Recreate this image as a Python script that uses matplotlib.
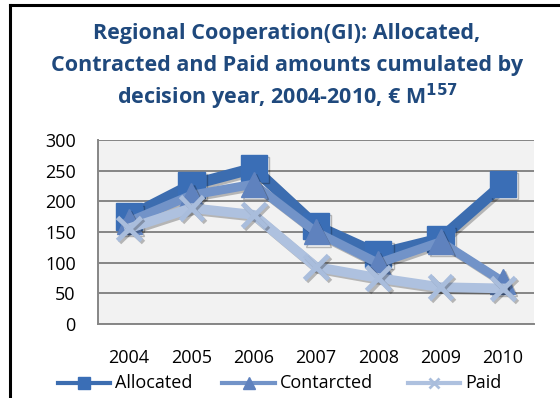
import matplotlib
matplotlib.use("Agg")
import matplotlib.pyplot as plt
from matplotlib import patheffects as pe
from matplotlib.lines import Line2D

years = ["2004", "2005", "2006", "2007", "2008", "2009", "2010"]
allocated = [175, 227, 254, 160, 114, 139, 228]
contracted = [167, 210, 228, 150, 99, 134, 69]
paid = [156, 189, 178, 93, 75, 60, 58]
series_names = ["Allocated", "Contarcted", "Paid"]
y_ticks = [0, 50, 100, 150, 200, 250, 300]

plt.rcParams["font.family"] = ["Open Sans", "DejaVu Sans"]

W, H = 560, 398
fig = plt.figure(figsize=(W / 100, H / 100), dpi=100)
fig.patch.set_facecolor("white")


def fx(px):
    return px / W


def fy(py):
    return 1 - py / H


# chart frame (left and top edges visible)
fig.add_artist(Line2D([fx(10), fx(10)], [0, fy(5)], color="black", lw=2.2,
                      transform=fig.transFigure))
fig.add_artist(Line2D([fx(10), 1], [fy(5), fy(5)], color="black", lw=2.2,
                      transform=fig.transFigure))

ax = fig.add_axes([fx(98), fy(324), 436 / W, 184 / H])
ax.set_facecolor("#F2F2F2")

styles = [
    dict(color="#3C6DB0", lw=8, marker="s", ms=19, mfc="#3A6EB6", mec="#3A6EB6", zorder=3),
    dict(color="#7293C8", lw=6.5, marker="^", ms=18, mfc="#5F82BE", mec="#5F82BE", zorder=4),
    dict(color="#AEC1DF", lw=7, marker="x", ms=17, mew=3.5, mec="#A9BDDC", zorder=5),
]

x = list(range(len(years)))
shadow = [pe.SimpleLineShadow(offset=(1.5, -1.5), alpha=0.25, rho=0.9), pe.Normal()]

for values, st in zip([allocated, contracted, paid], styles):
    ax.plot(x, values, path_effects=shadow, **st)

ax.set_xlim(-0.5, len(years) - 0.5)
ax.set_ylim(0, 300)
ax.set_yticks(y_ticks)
ax.set_yticklabels([str(v) for v in y_ticks], fontsize=13)
ax.set_xticks(x)
ax.set_xticklabels(years, fontsize=13)
ax.tick_params(axis="y", length=0, pad=16)
ax.tick_params(axis="x", length=0, pad=18)
ax.grid(axis="y", color="#868686", lw=1.4, zorder=1)
ax.set_axisbelow(True)
for side in ["top", "right"]:
    ax.spines[side].set_visible(False)
for side in ["left", "bottom"]:
    ax.spines[side].set_color("#868686")
    ax.spines[side].set_linewidth(1.4)

title_lines = [
    "Regional Cooperation(GI): Allocated,",
    "Contracted and Paid amounts cumulated by",
    r"decision year, 2004-2010, € M$^{\mathbf{157}}$",
]
for line, ty in zip(title_lines, [33, 65, 97]):
    fig.text(fx(287), fy(ty), line, ha="center", va="center", fontsize=15.5,
             fontweight="bold", color="#1F497D")

# legend row drawn as short line samples with their markers
legend_items = [(58, 110, 115), (222, 275, 280), (408, 460, 465)]
legend_ms = [8, 8, 7]
for (x0, x1, tx), name, st, lms in zip(legend_items, series_names, styles, legend_ms):
    mew = 2 if st["marker"] == "x" else 1
    fig.add_artist(Line2D([fx(x0), fx(x1)], [fy(383), fy(383)], lw=3, color=st["color"],
                          transform=fig.transFigure))
    fig.add_artist(Line2D([fx((x0 + x1) / 2)], [fy(383)], lw=0, marker=st["marker"],
                          ms=lms, mew=mew, mfc=st["mfc"] if "mfc" in st else "none",
                          mec=st["mec"], transform=fig.transFigure))
    fig.text(fx(tx), fy(383), name, ha="left", va="center", fontsize=13, color="black")

fig.savefig("out.png", dpi=100)
